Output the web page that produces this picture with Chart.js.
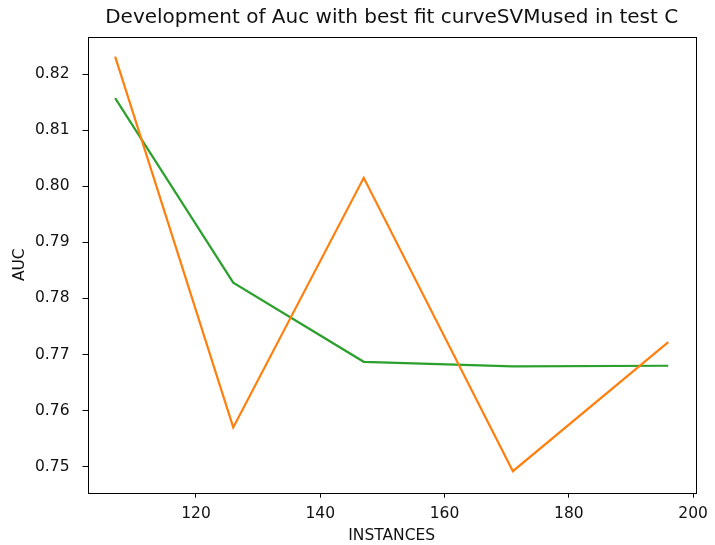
<!DOCTYPE html>
<html>
<head>
<meta charset="utf-8">
<script src="https://cdn.jsdelivr.net/npm/chart.js@4"></script>
<style>
  body { margin: 0; background: #fff; }
</style>
</head>
<body>
<canvas id="myChart" width="715" height="545"></canvas>
<script>
  const instances = [107, 126, 147, 171, 196];
  const aucValues = [0.8231, 0.7570, 0.8015, 0.7492, 0.7722];
  const fitValues = [0.8157, 0.7828, 0.7687, 0.7679, 0.7680];
  const xTicks = [120, 140, 160, 180, 200];
  const yTicks = [0.75, 0.76, 0.77, 0.78, 0.79, 0.80, 0.81, 0.82];

  const font = 'DejaVu Sans';

  // box around the plot like matplotlib
  const frame = {
    id: 'frame',
    afterDraw(chart) {
      const a = chart.chartArea;
      const c = chart.ctx;
      c.save();
      c.strokeStyle = '#000';
      c.lineWidth = 1;
      c.strokeRect(Math.round(a.left) + 0.5, Math.round(a.top) + 0.5,
        Math.round(a.right - a.left), Math.round(a.bottom - a.top));
      c.restore();
    }
  };

  const toPoints = (ys) => instances.map((x, i) => ({ x: x, y: ys[i] }));

  new Chart(document.getElementById('myChart'), {
    type: 'line',
    data: {
      datasets: [
        { data: toPoints(aucValues), borderColor: '#ff7f0e', borderWidth: 2.2, pointRadius: 0, tension: 0 },
        { data: toPoints(fitValues), borderColor: '#2ca02c', borderWidth: 2.2, pointRadius: 0, tension: 0 }
      ]
    },
    options: {
      responsive: false,
      animation: false,
      layout: { padding: { left: 0, right: 15, top: 0, bottom: 0 } },
      plugins: {
        legend: { display: false },
        tooltip: { enabled: false },
        title: {
          display: true,
          fullSize: false,
          text: 'Development of Auc with best fit curveSVMused in test C',
          color: '#111',
          font: { family: font, size: 20, weight: 'normal' },
          padding: { top: 6, bottom: 6.7 }
        }
      },
      scales: {
        x: {
          type: 'linear',
          min: 102.55,
          max: 200.45,
          afterBuildTicks: (s) => { s.ticks = xTicks.map(v => ({ value: v })); },
          afterFit: (s) => { s.height = 52.3; },
          grid: { drawOnChartArea: false, color: '#000', tickLength: 5 },
          border: { display: false },
          ticks: { color: '#111', font: { family: font, size: 15.5 }, padding: 7 },
          title: { display: true, text: 'INSTANCES', color: '#111', font: { family: font, size: 15.5 }, padding: { top: 1, bottom: 0 } }
        },
        y: {
          type: 'linear',
          min: 0.74537,
          max: 0.82665,
          afterBuildTicks: (s) => { s.ticks = yTicks.map(v => ({ value: v })); },
          afterFit: (s) => { s.width = 87.5; },
          grid: { drawOnChartArea: false, color: '#000', tickLength: 5 },
          border: { display: false },
          ticks: { color: '#111', font: { family: font, size: 15.5 }, padding: 13,
            callback: (v) => v.toFixed(2) },
          title: { display: true, text: 'AUC', color: '#111', font: { family: font, size: 15.5 }, padding: { top: 10.7, bottom: 0 } }
        }
      }
    },
    plugins: [frame]
  });
</script>
</body>
</html>
